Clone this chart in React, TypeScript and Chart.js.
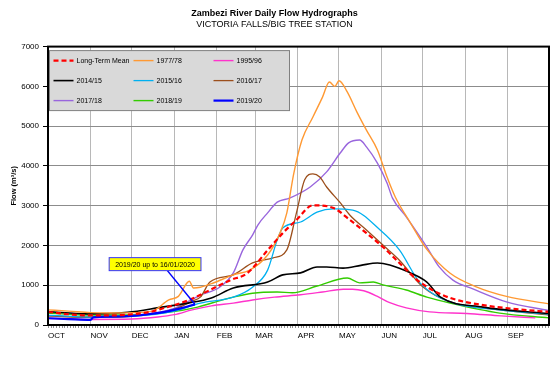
import React, { useEffect, useRef } from 'react';
import { Chart, registerables } from 'chart.js';

Chart.register(...registerables);

const FONT = 'Liberation Sans, Arial, sans-serif';

const TITLE = 'Zambezi River Daily Flow Hydrographs';
const SUBTITLE = 'VICTORIA FALLS/BIG TREE STATION';
const Y_TITLE = 'Flow (m³/s)';
const NOTE = '2019/20 up to 16/01/2020';

const MONTHS = ['OCT', 'NOV', 'DEC', 'JAN', 'FEB', 'MAR', 'APR', 'MAY', 'JUN', 'JUL', 'AUG', 'SEP'];
const MONTH_START_DAYS = [0, 31, 61, 92, 123, 151, 182, 212, 243, 273, 304, 335];
const Y_MAX = 7000;
const Y_STEP = 1000;

// Long-Term Mean
const MEAN_DAYS = [0, 15, 31, 46, 61, 76, 84, 92, 103, 118, 133, 145, 160, 171, 181, 193, 208, 220, 232, 244, 256, 269, 280, 293, 317, 341, 365];
const MEAN_VALUES = [330, 270, 240, 240, 270, 340, 420, 500, 630, 880, 1130, 1300, 1880, 2310, 2640, 3010, 2940, 2640, 2310, 1960, 1560, 1130, 880, 680, 500, 400, 330];

// 1977/78
const Y7778_DAYS = [0, 15, 31, 46, 61, 76, 88, 95, 103, 106, 111, 120, 135, 147, 160, 169, 174, 179, 185, 193, 200, 205, 209, 212, 218, 225, 232, 240, 247, 253, 264, 276, 293, 312, 334, 365];
const Y7778_VALUES = [380, 350, 310, 300, 310, 350, 630, 720, 1100, 930, 950, 1050, 1260, 1380, 1760, 2310, 2820, 3800, 4650, 5230, 5730, 6110, 6000, 6140, 5860, 5360, 4900, 4400, 3720, 3220, 2570, 1900, 1300, 960, 720, 530];

// 1995/96
const Y9596_DAYS = [0, 31, 61, 80, 92, 105, 119, 135, 149, 165, 184, 200, 215, 222, 230, 240, 249, 261, 278, 305, 330, 355];
const Y9596_VALUES = [170, 140, 150, 200, 260, 380, 480, 550, 630, 700, 760, 830, 900, 900, 860, 720, 560, 430, 330, 290, 230, 180];

// 2014/15
const Y1415_DAYS = [0, 29, 58, 83, 102, 119, 135, 160, 171, 184, 196, 203, 215, 228, 240, 249, 264, 276, 286, 317, 365];
const Y1415_VALUES = [340, 280, 320, 450, 550, 680, 930, 1080, 1260, 1310, 1460, 1460, 1430, 1500, 1560, 1510, 1310, 1080, 700, 450, 290];

// 2015/16
const Y1516_DAYS = [0, 31, 61, 92, 111, 135, 149, 160, 167, 171, 184, 196, 208, 222, 242, 256, 271, 293, 329, 365];
const Y1516_VALUES = [250, 200, 220, 350, 550, 700, 950, 1380, 2140, 2440, 2590, 2840, 2920, 2890, 2390, 1890, 1060, 580, 380, 270];

// 2016/17
const Y1617_DAYS = [0, 31, 61, 92, 105, 111, 118, 135, 149, 164, 174, 181, 187, 193, 198, 203, 213, 220, 232, 244, 256, 273, 293, 329, 365];
const Y1617_VALUES = [230, 190, 220, 400, 600, 700, 1080, 1260, 1560, 1690, 1890, 2820, 3650, 3800, 3720, 3470, 3070, 2760, 2390, 2010, 1630, 960, 580, 380, 250];

// 2017/18
const Y1718_DAYS = [0, 31, 61, 92, 111, 125, 135, 142, 149, 153, 160, 167, 176, 191, 203, 213, 219, 227, 232, 240, 247, 251, 261, 276, 285, 295, 310, 334, 365];
const Y1718_VALUES = [230, 200, 230, 420, 750, 950, 1310, 1890, 2260, 2520, 2820, 3090, 3190, 3470, 3850, 4330, 4580, 4650, 4480, 4070, 3570, 3190, 2720, 1960, 1460, 1130, 900, 580, 360];

// 2018/19
const Y1819_DAYS = [0, 29, 58, 90, 109, 120, 135, 149, 167, 178, 196, 218, 227, 237, 244, 261, 276, 293, 329, 365];
const Y1819_VALUES = [300, 250, 250, 330, 450, 560, 700, 800, 830, 810, 980, 1180, 1060, 1080, 1010, 880, 700, 550, 300, 180];

// 2019/20 (up to 16/01/2020)
const Y1920_DAYS = [0, 15, 31, 33, 46, 61, 75, 88, 98, 107];
const Y1920_VALUES = [170, 150, 130, 190, 210, 230, 280, 350, 430, 520];

// annotation anchor (in axis units)
const NOTE_DAY = 78;
const NOTE_FLOW = 1530;
const NOTE_ARROW_FROM_DAY = 87;

const SERIES = [
  { label: 'Long-Term Mean', days: MEAN_DAYS, values: MEAN_VALUES, color: '#ff0000', width: 2.2, dash: [5, 3] },
  { label: '2019/20', days: Y1920_DAYS, values: Y1920_VALUES, color: '#0000ff', width: 2.2, dash: [] },
  { label: '1977/78', days: Y7778_DAYS, values: Y7778_VALUES, color: '#ff9933', width: 1.4, dash: [] },
  { label: '1995/96', days: Y9596_DAYS, values: Y9596_VALUES, color: '#ff33cc', width: 1.4, dash: [] },
  { label: '2014/15', days: Y1415_DAYS, values: Y1415_VALUES, color: '#000000', width: 1.6, dash: [] },
  { label: '2015/16', days: Y1516_DAYS, values: Y1516_VALUES, color: '#00b0f0', width: 1.3, dash: [] },
  { label: '2016/17', days: Y1617_DAYS, values: Y1617_VALUES, color: '#9c4f1c', width: 1.3, dash: [] },
  { label: '2017/18', days: Y1718_DAYS, values: Y1718_VALUES, color: '#9966dd', width: 1.4, dash: [] },
  { label: '2018/19', days: Y1819_DAYS, values: Y1819_VALUES, color: '#33cc00', width: 1.4, dash: [] },
];

const LEGEND_ORDER = ['Long-Term Mean', '1977/78', '1995/96', '2014/15', '2015/16', '2016/17', '2017/18', '2018/19', '2019/20'];

const extrasPlugin = {
  id: 'extras',
  afterDraw(chart: any) {
    const { ctx, chartArea } = chart;
    const xs = chart.scales.x;
    const ys = chart.scales.y;
    ctx.save();

    // minor ticks along the bottom axis
    ctx.strokeStyle = '#909090';
    ctx.lineWidth = 1;
    ctx.beginPath();
    for (let d = 0; d <= 365; d += 2) {
      const px = Math.round(xs.getPixelForValue(d)) + 0.5;
      ctx.moveTo(px, chartArea.bottom);
      ctx.lineTo(px, chartArea.bottom + 3);
    }
    ctx.stroke();

    // frame
    ctx.strokeStyle = '#000';
    ctx.lineWidth = 2;
    ctx.strokeRect(chartArea.left, chartArea.top, chartArea.right - chartArea.left, chartArea.bottom - chartArea.top);

    // legend box
    const bx = chartArea.left + 1.5;
    const by = chartArea.top + 4;
    const bw = 240;
    const bh = 60;
    ctx.fillStyle = '#d9d9d9';
    ctx.fillRect(bx, by, bw, bh);
    ctx.strokeStyle = '#808080';
    ctx.lineWidth = 1;
    ctx.strokeRect(bx, by, bw, bh);
    ctx.font = `7px ${FONT}`;
    ctx.textBaseline = 'middle';
    ctx.textAlign = 'left';
    LEGEND_ORDER.forEach((name, i) => {
      const s = SERIES.find((q) => q.label === name)!;
      const col = i % 3;
      const row = Math.floor(i / 3);
      const cx = bx + 4 + col * 80;
      const cy = by + 10 + row * 20;
      ctx.strokeStyle = s.color;
      ctx.lineWidth = s.width;
      ctx.setLineDash(s.dash);
      ctx.beginPath();
      ctx.moveTo(cx, cy);
      ctx.lineTo(cx + 20, cy);
      ctx.stroke();
      ctx.setLineDash([]);
      ctx.fillStyle = '#000';
      ctx.fillText(name, cx + 23, cy);
    });

    // annotation
    const nx = xs.getPixelForValue(NOTE_DAY);
    const ny = ys.getPixelForValue(NOTE_FLOW);
    ctx.font = `7px ${FONT}`;
    const tw = ctx.measureText(NOTE).width;
    const w = tw + 12;
    const h = 13;
    const lastDay = Y1920_DAYS[Y1920_DAYS.length - 1];
    const lastVal = Y1920_VALUES[Y1920_VALUES.length - 1];
    ctx.strokeStyle = '#0000ff';
    ctx.lineWidth = 1.5;
    ctx.beginPath();
    ctx.moveTo(xs.getPixelForValue(NOTE_ARROW_FROM_DAY), ny + h / 2);
    ctx.lineTo(xs.getPixelForValue(lastDay), ys.getPixelForValue(lastVal));
    ctx.stroke();
    ctx.fillStyle = '#ffff00';
    ctx.fillRect(nx - w / 2, ny - h / 2, w, h);
    ctx.strokeStyle = '#3333ff';
    ctx.lineWidth = 1;
    ctx.strokeRect(nx - w / 2, ny - h / 2, w, h);
    ctx.fillStyle = '#000';
    ctx.textAlign = 'center';
    ctx.fillText(NOTE, nx, ny + 0.5);

    ctx.restore();
  },
};

export default function App() {
  const ref = useRef<HTMLCanvasElement>(null);

  useEffect(() => {
    document.body.style.margin = '0';
    const canvas = ref.current!;
    const chart = new Chart(canvas, {
      type: 'line',
      data: {
        datasets: SERIES.map((s, i) => ({
          label: s.label,
          data: s.days.map((d, j) => ({ x: d, y: s.values[j] })),
          borderColor: s.color,
          backgroundColor: s.color,
          borderWidth: s.width,
          borderDash: s.dash,
          pointRadius: 0,
          fill: false,
          cubicInterpolationMode: 'monotone',
          order: i,
        })),
      },
      options: {
        animation: false,
        responsive: false,
        maintainAspectRatio: false,
        layout: { padding: { top: 0, left: 0, right: 1, bottom: 0 } },
        plugins: {
          legend: { display: false },
          tooltip: { enabled: false },
          title: {
            display: true,
            text: TITLE,
            color: '#000',
            font: { family: FONT, size: 9, weight: 'bold', lineHeight: 1.2 },
            padding: { top: 8, bottom: 0 },
          },
          subtitle: {
            display: true,
            text: SUBTITLE,
            color: '#000',
            font: { family: FONT, size: 9, lineHeight: 1.2 },
            padding: { top: 0, bottom: 17 },
          },
        },
        scales: {
          x: {
            type: 'linear',
            min: 0,
            max: 365,
            afterBuildTicks: (scale: any) => {
              scale.ticks = MONTH_START_DAYS.map((v) => ({ value: v }));
            },
            ticks: {
              callback: (_v: any, i: number) => MONTHS[i],
              align: 'start',
              autoSkip: false,
              maxRotation: 0,
              padding: 6,
              color: '#000',
              font: { family: FONT, size: 8 },
            },
            grid: { color: '#b8b8b8', drawTicks: false },
            border: { display: false },
            afterFit: (scale: any) => {
              scale.height = 49;
            },
          },
          y: {
            min: 0,
            max: Y_MAX,
            ticks: {
              stepSize: Y_STEP,
              callback: (v: any) => String(v),
              padding: 4,
              color: '#000',
              font: { family: FONT, size: 8 },
            },
            grid: { color: '#8c8c8c', tickLength: 5, tickColor: '#000' },
            border: { display: false },
            title: {
              display: true,
              text: Y_TITLE,
              color: '#000',
              font: { family: FONT, size: 7.5, weight: 'bold' },
              padding: { top: 9, bottom: 0 },
            },
            afterFit: (scale: any) => {
              scale.width = 48;
            },
          },
        },
      } as any,
      plugins: [extrasPlugin],
    });
    return () => chart.destroy();
  }, []);

  return (
    <div style={{ width: 550, height: 374, background: '#fff' }}>
      <canvas ref={ref} width={550} height={374} style={{ display: 'block' }} />
    </div>
  );
}
